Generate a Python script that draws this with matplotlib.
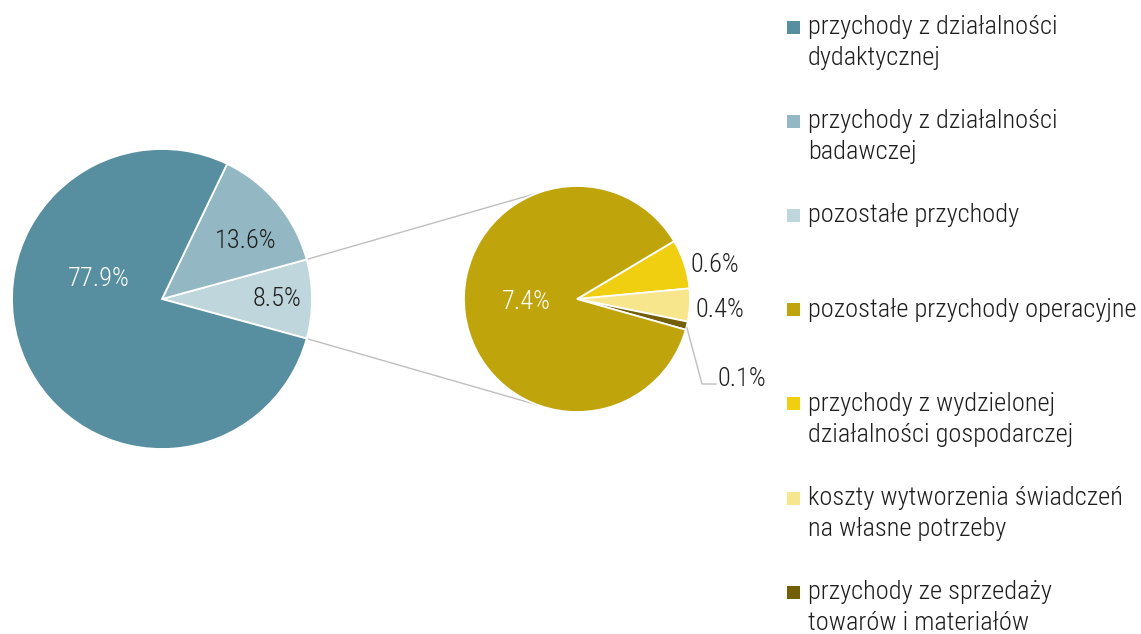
import matplotlib
matplotlib.use("Agg")
import matplotlib.pyplot as plt
from matplotlib import font_manager
from matplotlib.patches import Rectangle
import numpy as np

# data
main_labels = ["przychody z działalności\ndydaktycznej",
               "przychody z działalności\nbadawczej",
               "pozostałe przychody"]
main_values = [77.9, 13.6, 8.5]
sub_labels = ["pozostałe przychody operacyjne",
              "przychody z wydzielonej\ndziałalności gospodarczej",
              "koszty wytworzenia świadczeń\nna własne potrzeby",
              "przychody ze sprzedaży\ntowarów i materiałów"]
sub_values = [7.4, 0.6, 0.4, 0.1]

main_colors = ["#588fa0", "#93b8c3", "#bfd6dc"]
sub_colors = ["#bfa40c", "#f0ce10", "#f8e68c", "#735f07"]

names = {f.name for f in font_manager.fontManager.ttflist}
fam = "Roboto Condensed" if "Roboto Condensed" in names else "Roboto"
plt.rcParams["font.family"] = [fam, "DejaVu Sans"]
plt.rcParams["font.weight"] = "light"

W, H = 1141, 634
fig = plt.figure(figsize=(W / 100, H / 100), dpi=100)
ax = fig.add_axes([0, 0, 1, 1])

def Y(y):
    return H - y

c1, r1 = (162, Y(299)), 150
c2, r2 = (577, Y(299)), 113
wp = dict(edgecolor="white", linewidth=1.3)

# left pie: order drawn counterclockwise starting from the split slice
w1, _ = ax.pie(main_values[::-1], colors=main_colors[::-1], center=c1, radius=r1,
               startangle=-main_values[2] / 100 * 180, counterclock=True,
               wedgeprops=wp)
# right pie
small = sub_values[1:]
sp = sum(small) / sum(sub_values) * 360
w2, _ = ax.pie(small + sub_values[:1], colors=sub_colors[1:] + sub_colors[:1],
               center=c2, radius=r2, startangle=7.5 + sp / 2, counterclock=False,
               wedgeprops=wp)

# connector lines
ang = np.deg2rad(main_values[2] / 100 * 180)
for s in (1, -1):
    p1 = (c1[0] + r1 * np.cos(ang), c1[1] + s * r1 * np.sin(ang))
    a2 = np.deg2rad(s * 110)
    p2 = (c2[0] + r2 * np.cos(a2), c2[1] + r2 * np.sin(a2))
    ax.plot([p1[0], p2[0]], [p1[1], p2[1]], color="#bfbfbf", lw=1, zorder=0)

fs = 19
dark = "#1e1e1e"
pct = lambda v: f"{v:.1f}%"
ax.text(99, Y(279), pct(main_values[0]), color="white", fontsize=fs, ha="center", va="center")
ax.text(246, Y(241), pct(main_values[1]), color=dark, fontsize=fs, ha="center", va="center")
ax.text(277, Y(299), pct(main_values[2]), color=dark, fontsize=fs, ha="center", va="center")
ax.text(526, Y(302), pct(sub_values[0]), color="white", fontsize=fs, ha="center", va="center")
ax.text(715, Y(265), pct(sub_values[1]), color=dark, fontsize=fs, ha="center", va="center")
ax.text(720, Y(310), pct(sub_values[2]), color=dark, fontsize=fs, ha="center", va="center")
ax.text(742, Y(379), pct(sub_values[3]), color=dark, fontsize=fs, ha="center", va="center")
ax.plot([687, 702, 716], [Y(328), Y(384), Y(384)], color="#bfbfbf", lw=1)

# legend
all_labels = main_labels + sub_labels
all_colors = main_colors + sub_colors
for i, (lab, col) in enumerate(zip(all_labels, all_colors)):
    y0 = 27 + i * 94.2
    ax.add_patch(Rectangle((787, Y(y0) - 6.5), 13, 13, color=col, lw=0))
    for k, line in enumerate(lab.split("\n")):
        ax.text(808, Y(y0 + k * 31), line, color=dark, fontsize=fs, ha="left", va="center")

ax.set_xlim(0, W)
ax.set_ylim(0, H)
ax.set_aspect("equal")
ax.axis("off")
fig.savefig("out.png", dpi=100)
